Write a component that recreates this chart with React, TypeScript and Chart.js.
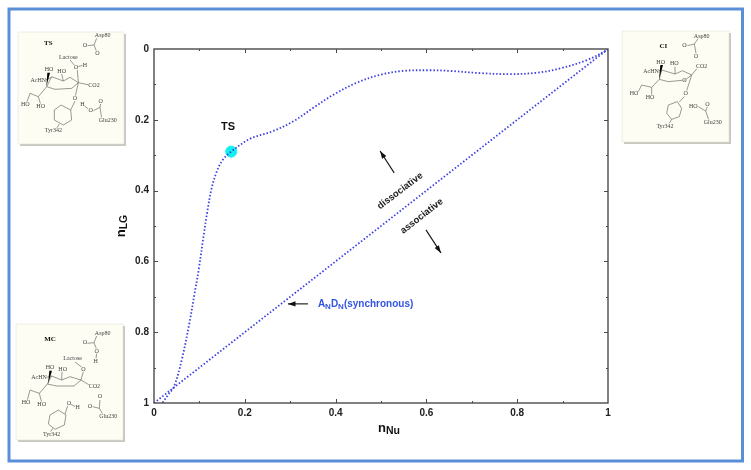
import React, { useEffect, useRef } from "react";
import { Chart, registerables } from "chart.js";

Chart.register(...registerables);

const curveX = [0.019, 0.031, 0.044, 0.061, 0.078, 0.09, 0.099, 0.109, 0.118, 0.127, 0.138, 0.151, 0.17, 0.211, 0.262, 0.306, 0.35, 0.394, 0.447, 0.498, 0.548, 0.608, 0.652, 0.718, 0.784, 0.844, 0.894, 0.954, 0.998, 1];
const curveY = [0.999, 0.977, 0.954, 0.879, 0.774, 0.686, 0.619, 0.53, 0.455, 0.393, 0.347, 0.314, 0.29, 0.254, 0.232, 0.205, 0.167, 0.13, 0.095, 0.073, 0.062, 0.06, 0.062, 0.068, 0.071, 0.067, 0.055, 0.031, 0.003, 0];
const synchronousX = [0, 1];
const synchronousY = [1, 0];
const tsPoint = { x: 0.17, y: 0.29 };
const majorTicks = [0, 0.2, 0.4, 0.6, 0.8, 1];
const minorTicks = [0.1, 0.3, 0.5, 0.7, 0.9];
const arrows = [
  [0.529, 0.35, 0.498, 0.288],
  [0.599, 0.511, 0.632, 0.576],
  [0.339, 0.72, 0.295, 0.72],
];

const SANS = '"Liberation Sans", Arial, sans-serif';
const BLUE = "#3d3fe0";

const annotationPlugin = {
  id: "annotations",
  afterDatasetsDraw(chart: any) {
    const { ctx, chartArea: a, scales } = chart;
    const sx = scales.x;
    const sy = scales.y;
    ctx.save();
    // frame
    ctx.strokeStyle = "#4a4a4a";
    ctx.lineWidth = 1.4;
    ctx.strokeRect(a.left, a.top, a.right - a.left, a.bottom - a.top);
    // ticks on all four sides
    ctx.lineWidth = 1;
    const mark = (v: number, len: number) => {
      const px = Math.round(sx.getPixelForValue(v)) + 0.5;
      const py = Math.round(sy.getPixelForValue(v)) + 0.5;
      ctx.beginPath();
      ctx.moveTo(px, a.bottom);
      ctx.lineTo(px, a.bottom - len);
      ctx.moveTo(px, a.top);
      ctx.lineTo(px, a.top + len);
      ctx.moveTo(a.left, py);
      ctx.lineTo(a.left + len, py);
      ctx.moveTo(a.right, py);
      ctx.lineTo(a.right - len, py);
      ctx.stroke();
    };
    majorTicks.slice(1, -1).forEach((v) => mark(v, 4));
    minorTicks.forEach((v) => mark(v, 2));

    // arrows
    ctx.strokeStyle = "#111";
    ctx.fillStyle = "#111";
    ctx.lineWidth = 1.1;
    arrows.forEach(([x0, y0, x1, y1]) => {
      const ax = sx.getPixelForValue(x0);
      const ay = sy.getPixelForValue(y0);
      const bx = sx.getPixelForValue(x1);
      const by = sy.getPixelForValue(y1);
      const ang = Math.atan2(by - ay, bx - ax);
      ctx.beginPath();
      ctx.moveTo(ax, ay);
      ctx.lineTo(bx, by);
      ctx.stroke();
      ctx.beginPath();
      ctx.moveTo(bx, by);
      ctx.lineTo(bx - 8 * Math.cos(ang - 0.32), by - 8 * Math.sin(ang - 0.32));
      ctx.lineTo(bx - 8 * Math.cos(ang + 0.32), by - 8 * Math.sin(ang + 0.32));
      ctx.closePath();
      ctx.fill();
    });

    // labels inside plot
    ctx.textBaseline = "middle";
    ctx.textAlign = "center";
    ctx.fillStyle = "#111";
    ctx.font = `bold 11px ${SANS}`;
    ctx.fillText("TS", sx.getPixelForValue(0.163), sy.getPixelForValue(0.22));
    const rotated = (t: string, x: number, y: number, deg: number, size: number) => {
      ctx.save();
      ctx.translate(sx.getPixelForValue(x), sy.getPixelForValue(y));
      ctx.rotate((deg * Math.PI) / 180);
      ctx.font = `bold ${size}px ${SANS}`;
      ctx.fillStyle = "#222";
      ctx.fillText(t, 0, 0);
      ctx.restore();
    };
    rotated("dissociative", 0.542, 0.401, -37, 9.5);
    rotated("associative", 0.59, 0.472, -38, 9.5);

    // ANDN (synchronous)
    ctx.textAlign = "left";
    ctx.fillStyle = "#3355e0";
    let x = sx.getPixelForValue(0.361);
    const y = sy.getPixelForValue(0.72);
    const seq: [string, boolean][] = [["A", false], ["N", true], ["D", false], ["N", true], ["(synchronous)", false]];
    seq.forEach(([t, sub]) => {
      ctx.font = sub ? `bold 8px ${SANS}` : `bold 10px ${SANS}`;
      ctx.fillText(t, x, sub ? y + 3 : y);
      x += ctx.measureText(t).width;
    });

    // axis titles
    ctx.fillStyle = "#111";
    const title = (main: string, sub: string) => {
      ctx.font = `bold 13px ${SANS}`;
      const w0 = ctx.measureText(main).width;
      ctx.font = `bold 10.5px ${SANS}`;
      const w1 = ctx.measureText(sub).width;
      const s = -(w0 + w1) / 2;
      ctx.textAlign = "left";
      ctx.font = `bold 13px ${SANS}`;
      ctx.fillText(main, s, 0);
      ctx.font = `bold 10.5px ${SANS}`;
      ctx.fillText(sub, s + w0, 3.5);
    };
    ctx.save();
    ctx.translate((a.left + a.right) / 2 + 8, a.bottom + 25);
    title("n", "Nu");
    ctx.restore();
    ctx.save();
    ctx.translate(121, (a.top + a.bottom) / 2);
    ctx.rotate(-Math.PI / 2);
    title("n", "LG");
    ctx.restore();
    ctx.restore();
  },
};

type Mol = {
  ox: number;
  oy: number;
  box: [number, number, number, number];
  title: [string, number, number];
  labels: [string, number, number][];
  lines: number[][];
  wedge: number[];
};

const molecules: Mol[] = [
  {
    ox: 0,
    oy: 0,
    box: [18, 32, 106, 112],
    title: ["TS", 145, 136],
    labels: [["Asp80", 308, 112], ["O", 255, 141], ["O", 292, 165], ["Lactose", 205, 177], ["O", 228, 208], ["H", 255, 200], ["HO", 147, 214], ["HO", 185, 220], ["AcHN", 115, 245], ["CO2", 282, 262], ["O", 225, 300], ["H", 247, 318], ["O", 272, 335], ["O", 302, 310], ["Glu230", 323, 367], ["HO", 76, 317], ["HO", 122, 325], ["Tyr342", 160, 397]],
    lines: [[155, 230, 190, 243, 210, 232, 235, 248, 215, 265, 165, 268, 140, 260, 155, 230], [183, 315, 212, 330, 215, 360, 190, 375, 163, 360, 163, 330, 183, 315], [225, 303, 212, 330], [178, 372, 170, 385], [290, 115, 282, 135, 262, 137], [282, 135, 290, 155], [210, 180, 225, 198], [232, 210, 235, 248, 268, 255], [235, 248, 226, 288], [234, 200, 248, 196], [252, 317, 265, 327], [280, 332, 300, 322, 302, 312], [300, 322, 305, 355], [140, 260, 115, 290, 90, 280, 80, 308], [115, 290, 122, 313], [135, 240, 155, 232], [185, 222, 190, 243]],
    wedge: [142, 218, 150, 218, 139, 260],
  },
  {
    ox: 0,
    oy: 300,
    box: [16, 324, 107, 116],
    title: ["MC", 150, 122],
    labels: [["Asp80", 308, 104], ["O", 255, 133], ["O", 290, 158], ["H", 287, 188], ["Lactose", 218, 181], ["O", 250, 213], ["HO", 150, 207], ["HO", 188, 212], ["AcHN", 117, 237], ["CO2", 283, 265], ["O", 270, 323], ["O", 300, 295], ["Glu230", 325, 355], ["HO", 78, 312], ["HO", 125, 319], ["O", 207, 315], ["H", 233, 326], ["Tyr342", 155, 408]],
    lines: [[155, 228, 185, 240, 210, 230, 243, 240, 222, 258, 170, 258, 142, 252, 155, 228], [175, 330, 198, 345, 193, 375, 165, 388, 145, 372, 150, 345, 175, 330], [195, 342, 203, 318], [158, 385, 152, 395], [290, 108, 282, 128, 262, 130], [282, 128, 290, 148], [290, 160, 288, 176], [225, 186, 247, 203], [250, 215, 243, 240, 268, 255], [140, 232, 155, 228], [186, 215, 185, 240], [142, 252, 118, 280, 90, 270, 82, 300], [118, 280, 125, 307], [278, 320, 298, 325, 300, 300], [298, 325, 310, 345], [213, 313, 226, 320]],
    wedge: [148, 212, 156, 212, 144, 252],
  },
  {
    ox: 590,
    oy: 0,
    box: [622, 31, 107, 111],
    title: ["CI", 220, 144],
    labels: [["Asp80", 335, 113], ["O", 283, 142], ["O", 318, 173], ["HO", 212, 191], ["HO", 253, 196], ["AcHN", 183, 219], ["CO2", 335, 205], ["O", 283, 245], ["HO", 132, 286], ["HO", 180, 298], ["O", 287, 285], ["HO", 310, 323], ["O", 352, 317], ["Glu230", 368, 373], ["Tyr342", 225, 383]],
    lines: [[215, 210, 255, 222, 278, 212, 305, 225, 285, 240, 235, 245, 208, 238, 215, 210], [262, 305, 275, 325, 268, 350, 245, 358, 230, 340, 235, 315, 262, 305], [245, 358, 238, 370], [325, 115, 313, 132, 292, 137], [313, 132, 318, 160], [208, 238, 185, 262, 155, 255, 145, 275], [185, 262, 185, 285], [305, 225, 290, 272], [283, 290, 268, 306], [305, 225, 320, 207], [325, 320, 347, 333, 352, 320], [347, 333, 357, 362], [200, 214, 215, 210], [255, 200, 255, 222]],
    wedge: [211, 195, 219, 195, 207, 238],
  },
];

function Panel({ m }: { m: Mol }) {
  const [x, y, w, h] = m.box;
  return (
    <g>
      <rect x={x + 2} y={y + 2} width={w} height={h} fill="#c8c8c2" />
      <rect x={x} y={y} width={w} height={h} fill="#fdfdf3" stroke="#deded6" strokeWidth={0.5} />
      <g transform={`translate(${m.ox} ${m.oy}) scale(${1 / 3})`}>
        {m.lines.map((pts, i) => (
          <polyline key={i} points={pts.join(" ")} fill="none" stroke="#666" strokeWidth={2} />
        ))}
        <polygon points={m.wedge.join(" ")} fill="#000" />
        <text x={m.title[1]} y={m.title[2]} textAnchor="middle" fontFamily='"Liberation Serif", serif' fontWeight="bold" fontSize={21} fill="#111">
          {m.title[0]}
        </text>
        {m.labels.map(([t, lx, ly], i) => (
          <text key={i} x={lx} y={ly} textAnchor="middle" fontFamily='"Liberation Serif", serif' fontSize={18} fill="#444" style={{ paintOrder: "stroke" }} stroke="#fdfdf3" strokeWidth={3}>
            {t}
          </text>
        ))}
      </g>
    </g>
  );
}

export default function App() {
  const ref = useRef<HTMLCanvasElement>(null);
  useEffect(() => {
    const lineStyle = {
      borderColor: BLUE,
      borderWidth: 1.8,
      borderDash: [1.5, 2],
      pointRadius: 0,
      fill: false,
    };
    const chart = new Chart(ref.current as HTMLCanvasElement, {
      type: "scatter",
      data: {
        datasets: [
          {
            label: "reaction path",
            data: curveX.map((x, i) => ({ x, y: curveY[i] })),
            showLine: true,
            tension: 0.35,
            ...lineStyle,
          },
          {
            label: "synchronous",
            data: synchronousX.map((x, i) => ({ x, y: synchronousY[i] })),
            showLine: true,
            ...lineStyle,
          },
          {
            label: "TS",
            data: [tsPoint],
            pointRadius: 5.5,
            pointBackgroundColor: "#0ff0f0",
            pointBorderColor: "#0ff0f0",
          },
        ],
      } as any,
      options: {
        animation: false,
        responsive: false,
        layout: { padding: { left: 0, right: 143, top: 49, bottom: 0 } },
        plugins: { legend: { display: false }, tooltip: { enabled: false } },
        scales: {
          x: {
            type: "linear",
            min: 0,
            max: 1,
            grid: { display: false, drawTicks: false },
            border: { display: false },
            afterFit: (s: any) => {
              s.height = 67;
            },
            ticks: {
              stepSize: 0.2,
              padding: 4,
              color: "#222",
              font: { family: SANS, size: 10, weight: "bold" },
              maxRotation: 0,
              callback: (v: any) => String(Number(Number(v).toFixed(1))),
            },
          },
          y: {
            type: "linear",
            reverse: true,
            min: 0,
            max: 1,
            grid: { display: false, drawTicks: false },
            border: { display: false },
            afterFit: (s: any) => {
              s.width = 154;
            },
            ticks: {
              stepSize: 0.2,
              padding: 5,
              color: "#222",
              font: { family: SANS, size: 10, weight: "bold" },
              callback: (v: any) => String(Number(Number(v).toFixed(1))),
            },
          },
        },
      } as any,
      plugins: [annotationPlugin],
    });
    return () => chart.destroy();
  }, []);

  return (
    <div style={{ position: "fixed", left: 0, top: 0, width: 751, height: 470, background: "#fff", overflow: "hidden" }}>
      <canvas ref={ref} width={751} height={470} style={{ position: "absolute", left: 0, top: 0, display: "block" }} />
      <svg width={751} height={470} style={{ position: "absolute", left: 0, top: 0, pointerEvents: "none" }}>
        <rect x={9} y={9} width={733.5} height={452} fill="none" stroke="#5a8fd8" strokeWidth={3} />
        {molecules.map((m, i) => (
          <Panel key={i} m={m} />
        ))}
      </svg>
    </div>
  );
}
